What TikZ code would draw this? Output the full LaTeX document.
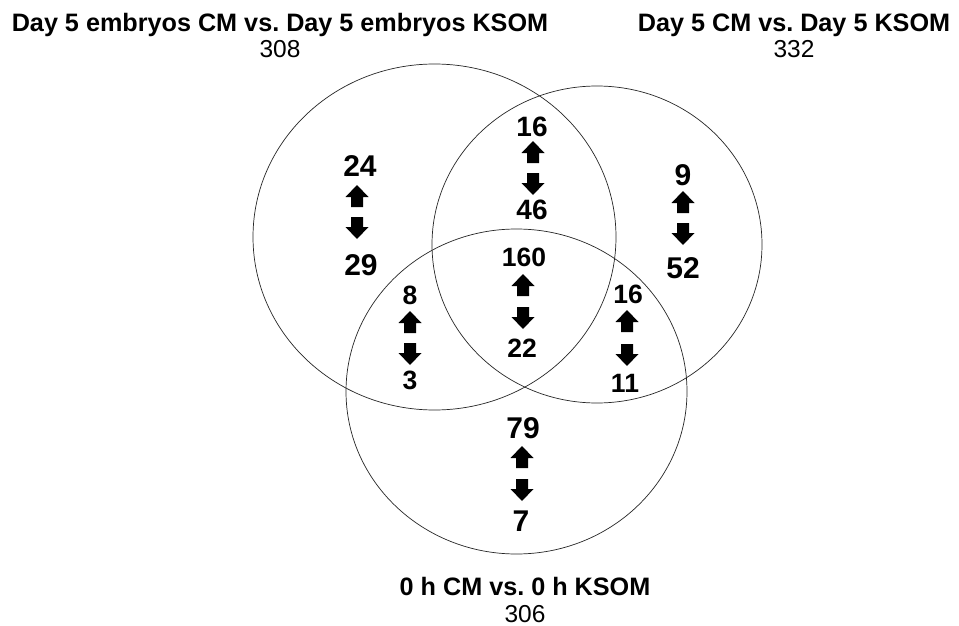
\documentclass[tikz,border=0pt]{standalone}
\usepackage{fontspec}
\setmainfont{Liberation Sans}
\usetikzlibrary{shapes.geometric}
\begin{document}
\frenchspacing
\begin{tikzpicture}[x=1pt,y=-1pt,
  setc/.style={ellipse, draw=black!85, line width=0.7pt, inner sep=0pt, outer sep=0pt},
  ttl/.style={font=\bfseries\fontsize{25.2}{28}\selectfont, inner sep=0pt, anchor=base},
  cnt/.style={font=\fontsize{24.5}{28}\selectfont, inner sep=0pt, anchor=base},
  big/.style={font=\bfseries\fontsize{30}{34}\selectfont, inner sep=0pt},
  mid/.style={font=\bfseries\fontsize{28}{31}\selectfont, inner sep=0pt},
  sml/.style={font=\bfseries\fontsize{26.5}{29}\selectfont, inner sep=0pt},
  uparrow/.pic={\fill (0,-11) -- (11.5,1) -- (6,1) -- (6,11) -- (-6,11) -- (-6,1) -- (-11.5,1) -- cycle;},
  downarrow/.pic={\fill (0,11) -- (11.5,-1) -- (6,-1) -- (6,-11) -- (-6,-11) -- (-6,-1) -- (-11.5,-1) -- cycle;}
]
\useasboundingbox (0,0) rectangle (959,626);
\fill[white] (0,0) rectangle (959,626);

% sets
\node[setc, minimum width=363pt, minimum height=346pt] (A) at (434.5,237) {};
\node[setc, minimum width=330pt, minimum height=317pt] (B) at (597,244.5) {};
\node[setc, minimum width=341pt, minimum height=325pt] (C) at (516.5,391.5) {};

% titles
\node[ttl] (tA) at (280,32) {Day 5 embryos CM vs. Day 5 embryos KSOM};
\node[cnt] (nA) at (280,58) {308};
\node[ttl] (tB) at (794,32) {Day 5 CM vs. Day 5 KSOM};
\node[cnt] (nB) at (794,58) {332};
\node[ttl] (tC) at (525,595) {0 h CM vs. 0 h KSOM};
\node[cnt] (nC) at (525,622) {306};

% A only
\node[big] (a1) at (360,166) {24};
\pic at (357,196) {uparrow};
\pic at (357,228) {downarrow};
\node[big] (a2) at (361,265) {29};

% A and B
\node[mid] (ab1) at (532,127) {16};
\pic at (533,152) {uparrow};
\pic at (533,184) {downarrow};
\node[mid] (ab2) at (532,210) {46};

% B only
\node[big] (b1) at (683,175) {9};
\pic at (683,202) {uparrow};
\pic at (683,234) {downarrow};
\node[big] (b2) at (683,268) {52};

% A, B and C
\node[sml] (abc1) at (524,257) {160};
\pic at (523,285) {uparrow};
\pic at (523,318) {downarrow};
\node[sml] (abc2) at (522,348) {22};

% A and C
\node[sml] (ac1) at (410,295) {8};
\pic at (410,322) {uparrow};
\pic at (410,354) {downarrow};
\node[sml] (ac2) at (410,380) {3};

% B and C
\node[sml] (bc1) at (628,294) {16};
\pic at (627,321) {uparrow};
\pic at (627,355) {downarrow};
\node[sml] (bc2) at (625,383) {11};

% C only
\node[big] (c1) at (523,428) {79};
\pic at (522,457) {uparrow};
\pic at (522,490) {downarrow};
\node[big] (c2) at (521,521) {7};
\end{tikzpicture}
\end{document}
